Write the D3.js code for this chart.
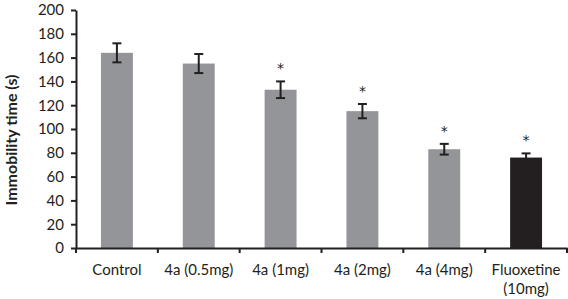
<!DOCTYPE html>
<html>
<head>
<meta charset="utf-8">
<script src="https://cdn.jsdelivr.net/npm/d3@7"></script>
<style>
  body { margin: 0; background: #fff; }
  svg { display: block; font-family: Lato, "Open Sans", sans-serif; }
</style>
</head>
<body>
<div id="chart"></div>
<script>
const width = 568;
const height = 299;
const margin = { top: 10, right: 1, bottom: 51, left: 76 };

const groups = ["Control", "4a (0.5mg)", "4a (1mg)", "4a (2mg)", "4a (4mg)", "Fluoxetine (10mg)"];
const means = [164, 155, 133, 115, 83, 76];
const errors = [8, 8, 7, 6, 4.5, 3.5];
const significant = [false, false, true, true, true, true];
const yTicks = [0, 20, 40, 60, 80, 100, 120, 140, 160, 180, 200];

const svg = d3.select("#chart")
  .append("svg")
  .attr("width", width)
  .attr("height", height);

const x = d3.scaleBand()
  .domain(groups)
  .range([margin.left, width - margin.right])
  .paddingInner(0.61)
  .paddingOuter(0.305);

const y = d3.scaleLinear()
  .domain([0, 200])
  .range([height - margin.bottom, margin.top]);

// bars
svg.selectAll("rect.bar")
  .data(groups)
  .enter()
  .append("rect")
  .attr("class", "bar")
  .attr("x", d => x(d))
  .attr("width", x.bandwidth())
  .attr("y", (d, i) => y(means[i]))
  .attr("height", (d, i) => y(0) - y(means[i]))
  .attr("fill", (d, i) => i === groups.length - 1 ? "#231f20" : "#939598");

// error bars
const err = svg.append("g")
  .attr("stroke", "#231f20")
  .attr("stroke-width", 2);

groups.forEach((g, i) => {
  const cx = x(g) + x.bandwidth() / 2;
  const top = y(means[i] + errors[i]);
  const bot = y(means[i] - errors[i]);
  err.append("line").attr("x1", cx).attr("x2", cx).attr("y1", top).attr("y2", bot);
  err.append("line").attr("x1", cx - 4.5).attr("x2", cx + 4.5).attr("y1", top).attr("y2", top);
  err.append("line").attr("x1", cx - 4.5).attr("x2", cx + 4.5).attr("y1", bot).attr("y2", bot);
  if (significant[i]) {
    svg.append("text")
      .attr("x", cx)
      .attr("y", top - 8)
      .attr("text-anchor", "middle")
      .attr("font-size", "14px")
      .attr("font-family", "'DejaVu Sans', sans-serif")
      .attr("fill", "#231f20")
      .text("*");
  }
});

// y axis
const yAxis = svg.append("g")
  .attr("transform", `translate(${margin.left},0)`)
  .call(d3.axisLeft(y).tickValues(yTicks).tickSize(5).tickSizeOuter(0).tickPadding(7));

// x axis
const xAxis = svg.append("g")
  .attr("transform", `translate(0,${y(0)})`)
  .call(d3.axisBottom(x).tickSize(0).tickFormat(""));

const boundaries = d3.range(groups.length + 1).map(i => margin.left + i * x.step());
xAxis.selectAll("line.sep")
  .data(boundaries)
  .enter()
  .append("line")
  .attr("class", "sep")
  .attr("x1", d => d)
  .attr("x2", d => d)
  .attr("y1", 0)
  .attr("y2", 5)
  .attr("stroke", "#231f20")
  .attr("stroke-width", 2);

[yAxis, xAxis].forEach(a => {
  a.select(".domain").attr("stroke", "#231f20").attr("stroke-width", 2);
  a.selectAll(".tick line").attr("stroke", "#231f20").attr("stroke-width", 2);
});
yAxis.selectAll(".tick text")
  .attr("font-size", "15px")
  .attr("fill", "#231f20")
  .attr("font-family", "Lato, sans-serif");

// category labels
groups.forEach(g => {
  const parts = g === "Fluoxetine (10mg)" ? ["Fluoxetine", "(10mg)"] : [g];
  const t = svg.append("text")
    .attr("x", x(g) + x.bandwidth() / 2)
    .attr("y", 275)
    .attr("text-anchor", "middle")
    .attr("font-size", "15px")
    .attr("fill", "#231f20");
  parts.forEach((p, j) => {
    t.append("tspan")
      .attr("x", x(g) + x.bandwidth() / 2)
      .attr("dy", j === 0 ? 0 : 19)
      .text(p);
  });
});

// y label
svg.append("text")
  .attr("transform", `translate(17,140) rotate(-90)`)
  .attr("text-anchor", "middle")
  .attr("font-size", "16px")
  .attr("font-weight", "bold")
  .attr("fill", "#231f20")
  .text("Immobility time (s)");
</script>
</body>
</html>
